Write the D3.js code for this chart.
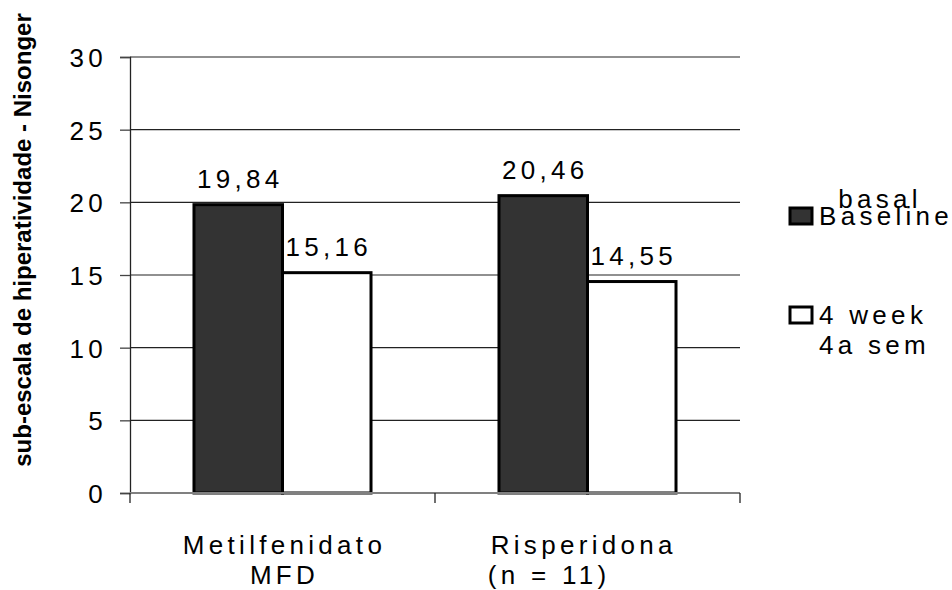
<!DOCTYPE html>
<html>
<head>
<meta charset="utf-8">
<script src="https://cdn.jsdelivr.net/npm/d3@7"></script>
<style>
  html, body { margin: 0; padding: 0; background: #fff; }
  svg text { font-family: Arial, "Liberation Sans", sans-serif; fill: #000; white-space: pre; }
</style>
</head>
<body>
<svg id="chart" width="952" height="590"></svg>
<script>
// Hyperactivity subscale (Nisonger) by treatment group, baseline vs. week 4
const groups = ["Metilfenidato", "Risperidona\u00a0"];
const groupSubLabels = ["MFD", "(n = 11)\u00a0\u00a0\u00a0\u00a0\u00a0\u00a0\u00a0"];
const series = ["Baseline", "4 week"];
const seriesAltLabels = ["basal", "4a sem"];
const baselineValues = [19.84, 20.46];
const week4Values = [15.16, 14.55];
const yTicks = [0, 5, 10, 15, 20, 25, 30];
const yTitle = "sub-escala de hiperatividade - Nisonger";

const seriesValues = [baselineValues, week4Values];
const seriesFill = ["#333333", "#ffffff"];
const FS = "26px", LS = "4.3px";

const svg = d3.select("#chart");
const plot = { left: 130, right: 740, top: 57, bottom: 493 };

const y = d3.scaleLinear().domain([0, 30]).range([plot.bottom, plot.top]);
const x0 = d3.scaleBand().domain(groups).range([plot.left, plot.right]).padding(0);
const x1 = d3.scaleBand().domain(series).range([0, x0.bandwidth()])
  .paddingInner(0).paddingOuter(0.723);

const fmt = v => d3.format(".2f")(v).replace(".", ",");

// horizontal gridlines
svg.append("g")
  .selectAll("line")
  .data(yTicks.filter(t => t > 0))
  .join("line")
  .attr("x1", plot.left).attr("x2", plot.right)
  .attr("y1", d => y(d)).attr("y2", d => y(d))
  .attr("stroke", "#222").attr("stroke-width", 1.2);

// y axis
const yAxis = d3.axisLeft(y).tickValues(yTicks).tickSize(10).tickPadding(13)
  .tickFormat(d3.format("d"));
const gy = svg.append("g").attr("transform", `translate(${plot.left},0)`).call(yAxis);
gy.select(".domain").attr("stroke", "#222").attr("stroke-width", 1.3);
gy.selectAll(".tick line").attr("stroke", "#444").attr("stroke-width", 1.3);
gy.selectAll(".tick text")
  .style("font-size", FS).style("letter-spacing", LS)
  .attr("dy", "0.36em");

// bars with value labels
const bars = svg.append("g");
groups.forEach((g, gi) => {
  series.forEach((s, si) => {
    const v = seriesValues[si][gi];
    const bx = x0(g) + x1(s);
    bars.append("rect")
      .attr("x", bx).attr("y", y(v))
      .attr("width", x1.bandwidth()).attr("height", y(0) - y(v))
      .attr("fill", seriesFill[si])
      .attr("stroke", "#000").attr("stroke-width", 3);
    bars.append("text")
      .attr("x", bx + x1.bandwidth() / 2 + 2)
      .attr("y", y(v) - 17)
      .attr("text-anchor", "middle")
      .style("font-size", FS).style("letter-spacing", LS)
      .text(fmt(v));
  });
});

// x axis baseline and category ticks
svg.append("line")
  .attr("x1", plot.left).attr("x2", plot.right)
  .attr("y1", y(0)).attr("y2", y(0))
  .attr("stroke", "#808080").attr("stroke-width", 2);
const bounds = [plot.left].concat(groups.map(g => x0(g) + x0.bandwidth()));
svg.append("g").selectAll("line").data(bounds).join("line")
  .attr("x1", d => d).attr("x2", d => d)
  .attr("y1", y(0)).attr("y2", y(0) + 10)
  .attr("stroke", "#222").attr("stroke-width", 1.3);

// category labels (two lines)
groups.forEach((g, gi) => {
  const cx = x0(g) + x0.bandwidth() / 2 + 2;
  svg.append("text").attr("x", cx).attr("y", 554)
    .attr("text-anchor", "middle")
    .style("font-size", FS).style("letter-spacing", LS)
    .text(g);
  svg.append("text").attr("x", cx).attr("y", 584)
    .attr("text-anchor", "middle")
    .style("font-size", FS).style("letter-spacing", LS)
    .text(groupSubLabels[gi]);
});

// y axis title
svg.append("text")
  .attr("transform", "translate(31,240) rotate(-90)")
  .attr("text-anchor", "middle")
  .style("font-size", "24px").style("font-weight", "bold")
  .text(yTitle);

// legend
const legend = svg.append("g");
const legendRows = [216, 315];
series.forEach((s, si) => {
  const ly = legendRows[si];
  legend.append("rect")
    .attr("x", 790).attr("y", ly - 8)
    .attr("width", 22).attr("height", 16)
    .attr("fill", seriesFill[si])
    .attr("stroke", "#000").attr("stroke-width", 3);
  legend.append("text").attr("x", 819).attr("y", ly + 9)
    .style("font-size", FS).style("letter-spacing", LS)
    .text(s);
});
legend.append("text").attr("x", 880).attr("y", legendRows[0] - 8)
  .attr("text-anchor", "middle")
  .style("font-size", FS).style("letter-spacing", LS)
  .text(seriesAltLabels[0]);
legend.append("text").attr("x", 819).attr("y", legendRows[1] + 39)
  .style("font-size", FS).style("letter-spacing", LS)
  .text(seriesAltLabels[1]);
</script>
</body>
</html>
